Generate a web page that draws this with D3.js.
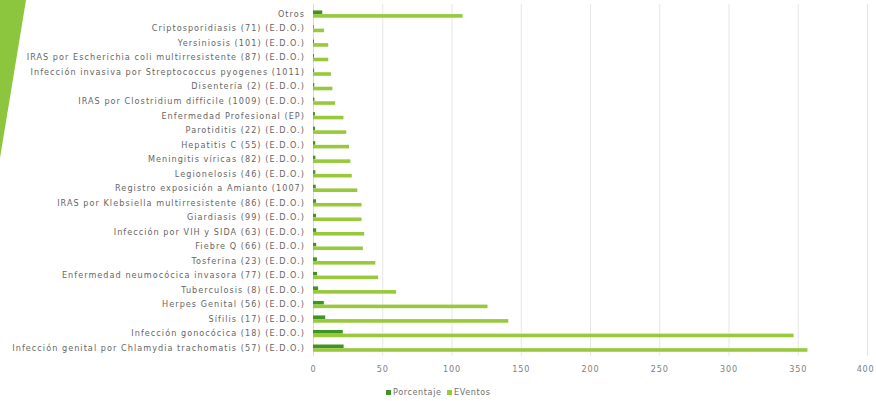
<!DOCTYPE html>
<html><head><meta charset="utf-8">
<script src="https://cdn.jsdelivr.net/npm/d3@7"></script>
<style>body{margin:0;background:#fff;}svg{display:block;}</style>
</head><body>
<svg id="chart" width="876" height="401"></svg>
<script>
const categories = [
  "Otros",
  "Criptosporidiasis (71) (E.D.O.)",
  "Yersiniosis (101) (E.D.O.)",
  "IRAS por Escherichia coli multirresistente (87) (E.D.O.)",
  "Infección invasiva por Streptococcus pyogenes (1011)",
  "Disentería (2) (E.D.O.)",
  "IRAS por Clostridium difficile (1009) (E.D.O.)",
  "Enfermedad Profesional (EP)",
  "Parotiditis (22) (E.D.O.)",
  "Hepatitis C (55) (E.D.O.)",
  "Meningitis víricas (82) (E.D.O.)",
  "Legionelosis (46) (E.D.O.)",
  "Registro exposición a Amianto (1007)",
  "IRAS por Klebsiella multirresistente (86) (E.D.O.)",
  "Giardiasis (99) (E.D.O.)",
  "Infección por VIH y SIDA (63) (E.D.O.)",
  "Fiebre Q (66) (E.D.O.)",
  "Tosferina (23) (E.D.O.)",
  "Enfermedad neumocócica invasora (77) (E.D.O.)",
  "Tuberculosis (8) (E.D.O.)",
  "Herpes Genital (56) (E.D.O.)",
  "Sífilis (17) (E.D.O.)",
  "Infección gonocócica (18) (E.D.O.)",
  "Infección genital por Chlamydia trachomatis (57) (E.D.O.)"
];
const eventos = [108, 8, 11, 11, 13, 14, 16, 22, 24, 26, 27, 28, 32, 35, 35, 37, 36, 45, 47, 60, 126, 141, 347, 357];
const porcentaje = [6.7, 0.5, 0.7, 0.7, 0.8, 0.9, 1.0, 1.4, 1.5, 1.6, 1.7, 1.7, 2.0, 2.2, 2.2, 2.3, 2.3, 2.8, 2.9, 3.7, 7.8, 8.8, 21.5, 22.1];
const xTicks = [0, 50, 100, 150, 200, 250, 300, 350, 400];
const seriesNames = ["Porcentaje", "EVentos"];
const seriesColors = ["#3f9423", "#97c93a"];

const FONT = "DejaVu Sans Condensed";
const svg = d3.select("#chart");

// decorative slide triangle
svg.append("polygon").attr("points", "0,0 26,0 0,158").attr("fill", "#8cc63e");

const x = d3.scaleLinear().domain([0, 400]).range([313, 867]);
const y = d3.scaleBand().domain(categories).range([6.7, 355.3]);
const sub = d3.scaleBand().domain(seriesNames).range([-3.6, 3.8]).padding(0.02);

// gridlines
svg.append("g").selectAll("line").data(xTicks).join("line")
  .attr("x1", d => x(d) + 0.5).attr("x2", d => x(d) + 0.5)
  .attr("y1", 4).attr("y2", 356)
  .attr("stroke", d => d === 0 ? "#d9d9d9" : "#e6e6e6").attr("stroke-width", 1);

const rows = svg.append("g").selectAll("g").data(categories).join("g")
  .attr("transform", d => `translate(0,${y(d) + y.bandwidth() / 2})`);

rows.append("rect")
  .attr("x", x(0)).attr("y", sub("Porcentaje"))
  .attr("width", (d, i) => x(porcentaje[i]) - x(0)).attr("height", sub.bandwidth())
  .attr("fill", seriesColors[0]);
rows.append("rect")
  .attr("x", x(0)).attr("y", sub("EVentos"))
  .attr("width", (d, i) => x(eventos[i]) - x(0)).attr("height", sub.bandwidth())
  .attr("fill", seriesColors[1]);

// category labels
const yAxis = d3.axisLeft(y).tickSize(0).tickPadding(8);
const ya = svg.append("g").attr("transform", `translate(${x(0)},0)`).call(yAxis);
ya.select(".domain").remove();
ya.selectAll("text").attr("fill", "#666").style("font-family", FONT)
  .style("font-size", "9px").style("letter-spacing", "1.05px");

// x axis
const xAxis = d3.axisBottom(x).tickValues(xTicks).tickSize(0).tickPadding(10);
const xa = svg.append("g").attr("transform", "translate(0,356)").call(xAxis);
xa.select(".domain").remove();
xa.selectAll("text").attr("fill", "#808080").style("font-family", FONT)
  .style("font-size", "9px").style("letter-spacing", "0.8px");
xa.selectAll(".tick").filter(d => d === 400).select("text")
  .attr("text-anchor", "end").attr("x", 7);

// legend
const legend = svg.append("g").attr("transform", "translate(386,395)");
const lx = [0, 61];
seriesNames.forEach((s, i) => {
  const g = legend.append("g").attr("transform", `translate(${lx[i]},0)`);
  g.append("rect").attr("x", 0).attr("y", -5).attr("width", 5).attr("height", 5).attr("fill", seriesColors[i]);
  g.append("text").attr("x", 7).attr("y", 0).text(s)
    .attr("fill", "#707070").style("font-family", FONT).style("font-size", "9px").style("letter-spacing", "0.6px");
});
</script>
</body></html>
